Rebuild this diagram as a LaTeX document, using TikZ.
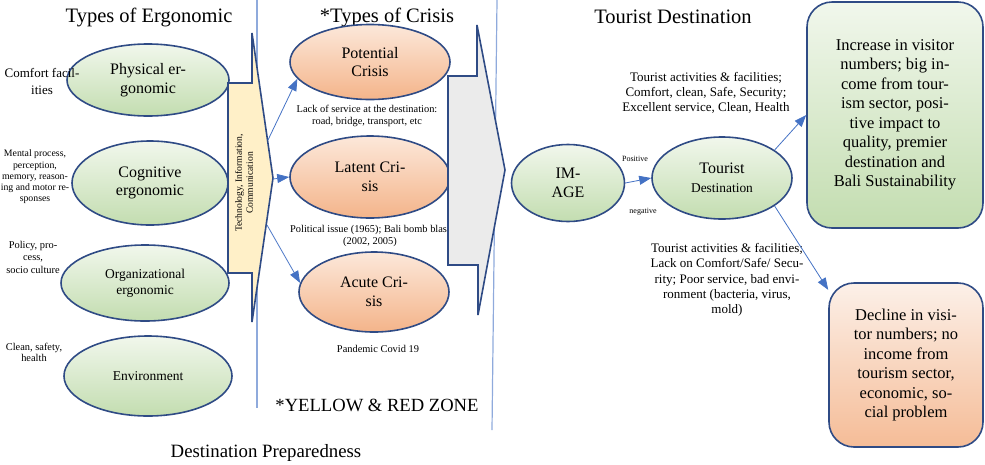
\documentclass[tikz,border=0pt]{standalone}
\usepackage{fontspec}
\setmainfont{Liberation Serif}
\usetikzlibrary{arrows.meta,shapes.geometric,positioning}

\definecolor{ebord}{HTML}{2F4B85}
\definecolor{greenT}{HTML}{F1F7EC}
\definecolor{greenB}{HTML}{C3DDB0}
\definecolor{orT}{HTML}{FCE8DA}
\definecolor{orB}{HTML}{F4B48A}
\definecolor{redT}{HTML}{FCF0E8}
\definecolor{redB}{HTML}{F5BC97}
\definecolor{ticyellow}{HTML}{FFF0C8}
\definecolor{zonegray}{HTML}{EBEBEB}
\definecolor{linkblue}{HTML}{4472C4}
\definecolor{zoneblue}{HTML}{8FAADC}

\newcommand{\fs}[2]{\fontsize{#1}{#2}\selectfont}

\begin{document}
\begin{tikzpicture}[x=1pt,y=-1pt,
    ergo/.style={ellipse, draw=ebord, line width=1.6pt, top color=greenT, bottom color=greenB,
        inner sep=0pt, align=center, font=\fs{16}{18.5}},
    crisis/.style={ergo, top color=orT, bottom color=orB},
    result/.style={rectangle, rounded corners=25pt, draw=ebord, line width=1.6pt,
        inner sep=0pt, align=center, font=\fs{16.5}{19.5}},
    note/.style={align=center, inner sep=0pt, font=\fs{10.4}{12}},
    title/.style={inner sep=0pt, font=\fs{20.5}{24}},
    link/.style={draw=linkblue, line width=0.8pt, -{Triangle[length=12pt,width=9pt]}},
    zone/.style={draw=zoneblue, line width=1.2pt}]
    \useasboundingbox (0,0) rectangle (985,464);

    % zone lines
    \draw[zone] (257,0) -- (257,408);
    \draw[zone] (497,0) -- (492,430);

    % titles
    \node[title] (tErgo) at (149,17) {Types of Ergonomic};
    \node[title] (tCrisis) at (387,17) {*Types of Crisis};
    \node[title] (tDest) at (673,17) {Tourist Destination};

    % types of ergonomic
    \node[ergo, minimum width=162pt, minimum height=72pt] (phys) at (148,80) {Physical er-\\gonomic};
    \node[ergo, minimum width=156pt, minimum height=84pt] (cogn) at (150,183) {Cognitive\\ergonomic};
    \node[ergo, minimum width=168pt, minimum height=76pt, font=\fs{13.5}{16}] (orga) at (145,283) {Organizational\\ergonomic};
    \node[ergo, minimum width=168pt, minimum height=80pt, font=\fs{13.5}{16}] (envi) at (148,376) {Environment};

    \node[note, font=\fs{13}{17}] (nPhys) at (42,81) {Comfort facil-\\ities};
    \node[note, font=\fs{9.8}{11.2}] (nCogn) at (35,177) {Mental process,\\perception,\\memory, reason-\\ing and motor re-\\sponses};
    \node[note, font=\fs{10.4}{12.5}] (nOrga) at (33,257) {Policy, pro-\\cess,\\socio culture};
    \node[note, font=\fs{10.4}{11}] (nEnvi) at (34,352) {Clean, safety,\\health};

    % technology arrow
    \draw[draw=ebord, line width=1.6pt, fill=ticyellow] (228,83) -- (252,83) -- (252,33) -- (273,178)
        -- (252,322) -- (252,273) -- (228,273) -- cycle;
    \node[rotate=90, align=center, font=\fs{9.6}{11}] (tic) at (244,183) {Technology, Information,\\Communication};
    \coordinate (ticA) at (268,140);
    \coordinate (ticB) at (273,179);
    \coordinate (ticC) at (267,225);

    % types of crisis
    \node[crisis, minimum width=160pt, minimum height=75pt] (pote) at (370,62) {Potential\\Crisis};
    \node[crisis, minimum width=160pt, minimum height=82pt] (late) at (370,177) {Latent Cri-\\sis};
    \node[crisis, minimum width=150pt, minimum height=80pt] (acut) at (374,292) {Acute Cri-\\sis};

    \node[note] (nPote) at (367,116) {Lack of service at the destination:\\road, bridge, transport, etc};
    \node[note] (nLate) at (370,236) {Political issue (1965); Bali bomb blast\\(2002, 2005)};
    \node[note] (nAcut) at (378,349) {Pandemic Covid 19};

    \draw[link] (ticA) -- (pote.193);
    \draw[link] (ticB) -- (late.west);
    \draw[link] (ticC) -- (acut.173);

    \node[inner sep=0pt, font=\fs{18.6}{22}] (zoneTxt) at (377,405) {*YELLOW \& RED ZONE};
    \node[inner sep=0pt, font=\fs{18.8}{22}] (prep) at (266,453) {Destination Preparedness};

    % crisis arrow
    \draw[draw=ebord, line width=1.6pt, fill=zonegray] (448,76) -- (477,76) -- (477,25) -- (505,170)
        -- (478,315) -- (478,265) -- (448,265) -- cycle;

    % tourist destination
    \node[ergo, minimum width=113pt, minimum height=77pt] (image) at (568,183) {IM-\\AGE};
    \node[ergo, minimum width=140pt, minimum height=82pt] (tour) at (722,178) {Tourist\\\fs{13.4}{18}Destination};

    \node[inner sep=0pt, font=\fs{8}{9}] (pos) at (635,159) {Positive};
    \node[inner sep=0pt, font=\fs{8}{9}] (neg) at (643,212) {negative};
    \draw[link] (image.east) -- (tour.west);

    \node[note, font=\fs{13}{15}] (nGood) at (706,93) {Tourist activities \& facilities;\\Comfort, clean, Safe, Security;\\Excellent service, Clean, Health};
    \node[note, font=\fs{13}{15.2}] (nBad) at (727,280) {Tourist activities \& facilities;\\Lack on Comfort/Safe/ Secu-\\rity; Poor service, bad envi-\\ronment (bacteria, virus,\\mold)};

    % outcomes
    \node[result, top color=greenT, bottom color=greenB, minimum width=176pt, minimum height=226pt] (gbox) at (895,115)
        {Increase in visitor\\numbers; big in-\\come from tour-\\ism sector, posi-\\tive impact to\\quality, premier\\destination and\\Bali Sustainability};
    \node[result, top color=redT, bottom color=redB, minimum width=154pt, minimum height=164pt] (rbox) at (906,365)
        {Decline in visi-\\tor numbers; no\\income from\\tourism sector,\\economic, so-\\cial problem};

    \draw[link] (tour.28) -- (gbox.west);
    \draw[link] (tour.-28) -- (rbox.136);
\end{tikzpicture}
\end{document}
